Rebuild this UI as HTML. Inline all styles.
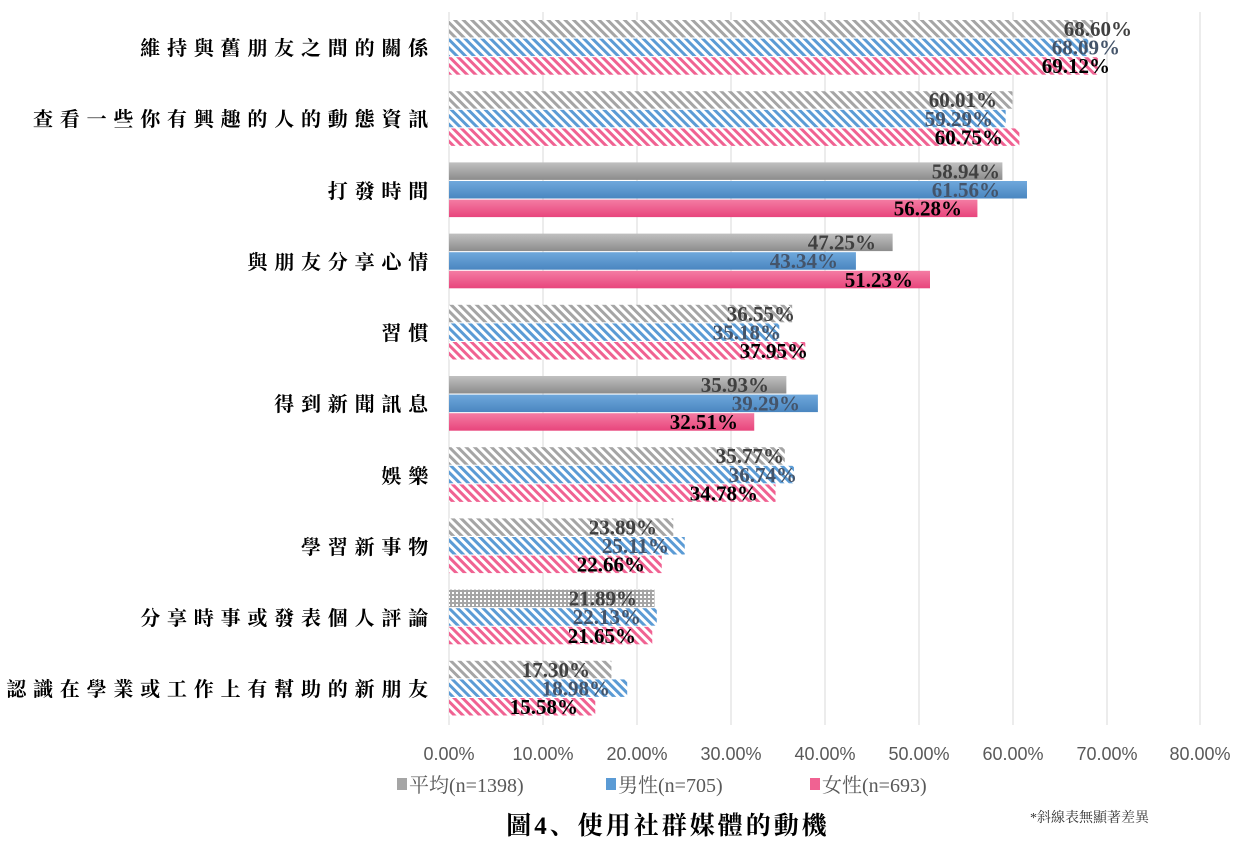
<!DOCTYPE html>
<html><head><meta charset="utf-8"><style>
body{margin:0;background:#fff;}
svg text{font-family:"Liberation Serif","Noto Serif CJK SC",serif;}
svg text.ax{font-family:"Liberation Sans",sans-serif;}
</style></head><body>
<svg width="1255" height="841" viewBox="0 0 1255 841" xmlns="http://www.w3.org/2000/svg">
<defs>
<pattern id="pg" width="6" height="6" patternUnits="userSpaceOnUse" patternTransform="rotate(-45)"><rect width="6" height="6" fill="#fff"/><rect width="3" height="6" fill="#a5a5a5"/></pattern>
<pattern id="pb" width="6" height="6" patternUnits="userSpaceOnUse" patternTransform="rotate(-45)"><rect width="6" height="6" fill="#fff"/><rect width="3" height="6" fill="#5b9bd5"/></pattern>
<pattern id="pp" width="6" height="6" patternUnits="userSpaceOnUse" patternTransform="rotate(-45)"><rect width="6" height="6" fill="#fff"/><rect width="3" height="6" fill="#f06292"/></pattern>
<pattern id="pd" width="4" height="4" patternUnits="userSpaceOnUse"><rect width="4" height="4" fill="#a5a5a5"/><rect width="2" height="2" fill="#fff"/></pattern>
<linearGradient id="sg" x1="0" y1="0" x2="0" y2="1"><stop offset="0" stop-color="#c0c0c0"/><stop offset="1" stop-color="#8c8c8c"/></linearGradient>
<linearGradient id="sb" x1="0" y1="0" x2="0" y2="1"><stop offset="0" stop-color="#6fa8dc"/><stop offset="1" stop-color="#4a86c0"/></linearGradient>
<linearGradient id="sp" x1="0" y1="0" x2="0" y2="1"><stop offset="0" stop-color="#f47ca3"/><stop offset="1" stop-color="#e8457c"/></linearGradient>
</defs>
<g stroke="#d9d9d9" stroke-width="1">
<line x1="449" y1="12" x2="449" y2="725"/><line x1="543" y1="12" x2="543" y2="725"/><line x1="637" y1="12" x2="637" y2="725"/><line x1="731" y1="12" x2="731" y2="725"/><line x1="825" y1="12" x2="825" y2="725"/><line x1="919" y1="12" x2="919" y2="725"/><line x1="1013" y1="12" x2="1013" y2="725"/><line x1="1107" y1="12" x2="1107" y2="725"/><line x1="1200" y1="12" x2="1200" y2="725"/>
</g>
<g id="bars"></g>
<g font-size="20" fill="#000" text-anchor="end" font-weight="bold" letter-spacing="6.8">
<text x="435" y="55">維持與舊朋友之間的關係</text>
<text x="435" y="126">查看一些你有興趣的人的動態資訊</text>
<text x="435" y="198">打發時間</text>
<text x="435" y="269">與朋友分享心情</text>
<text x="435" y="340">習慣</text>
<text x="435" y="411">得到新聞訊息</text>
<text x="435" y="483">娛樂</text>
<text x="435" y="554">學習新事物</text>
<text x="435" y="625">分享時事或發表個人評論</text>
<text x="435" y="696">認識在學業或工作上有幫助的新朋友</text>
</g>
<g font-size="18" fill="#595959" text-anchor="middle">
<text class="ax" x="449" y="760">0.00%</text><text class="ax" x="543" y="760">10.00%</text><text class="ax" x="637" y="760">20.00%</text><text class="ax" x="731" y="760">30.00%</text><text class="ax" x="825" y="760">40.00%</text><text class="ax" x="919" y="760">50.00%</text><text class="ax" x="1013" y="760">60.00%</text><text class="ax" x="1107" y="760">70.00%</text><text class="ax" x="1200" y="760">80.00%</text>
</g>
<rect x="397" y="778" width="10" height="12" fill="#a5a5a5"/>
<text x="409" y="792" font-size="20" fill="#595959">平均(n=1398)</text>
<rect x="606" y="778" width="10" height="12" fill="#5b9bd5"/>
<text x="618" y="792" font-size="20" fill="#595959">男性(n=705)</text>
<rect x="810" y="778" width="10" height="12" fill="#f06292"/>
<text x="822" y="792" font-size="20" fill="#595959">女性(n=693)</text>
<text x="668" y="834" font-size="25" font-weight="bold" text-anchor="middle" fill="#000" letter-spacing="3">圖4、使用社群媒體的動機</text>
<text x="1030" y="822" font-size="14" fill="#333">*斜線表無顯著差異</text>
<g id="labels" font-size="21" font-weight="bold" text-anchor="end"></g>
<script>
var d=[[68.60,68.09,69.12,'p',1132,1120,1110],[60.01,59.29,60.75,'p',997,993,1003],[58.94,61.56,56.28,'s',1000,1000,962],[47.25,43.34,51.23,'s',876,838,913],[36.55,35.18,37.95,'p',795,781,808],[35.93,39.29,32.51,'s',769,800,738],[35.77,36.74,34.78,'p',784,797,758],[23.89,25.11,22.66,'p',657,669,645],[21.89,22.13,21.65,'d',637,641,636],[17.30,18.98,15.58,'p',590,610,578]];
var ns='http://www.w3.org/2000/svg',B=document.getElementById('bars'),L=document.getElementById('labels');
var cols=['#404040','#44546a','#000'];
d.forEach(function(r,i){for(var k=0;k<3;k++){var y=20+i*71.2+k*18.6;var w=r[k]*9.389;
var f=r[3]=='s'?['url(#sg)','url(#sb)','url(#sp)'][k]:(r[3]=='d'&&k==0?'url(#pd)':['url(#pg)','url(#pb)','url(#pp)'][k]);
var e=document.createElementNS(ns,'rect');e.setAttribute('x',449);e.setAttribute('y',y);e.setAttribute('width',w);e.setAttribute('height',17.5);e.setAttribute('fill',f);B.appendChild(e);
var t=document.createElementNS(ns,'text');t.setAttribute('x',r[4+k]);t.setAttribute('y',y+16);t.setAttribute('fill',cols[k]);t.textContent=r[k].toFixed(2)+'%';L.appendChild(t);}});
</script>
</svg>
</body></html>
